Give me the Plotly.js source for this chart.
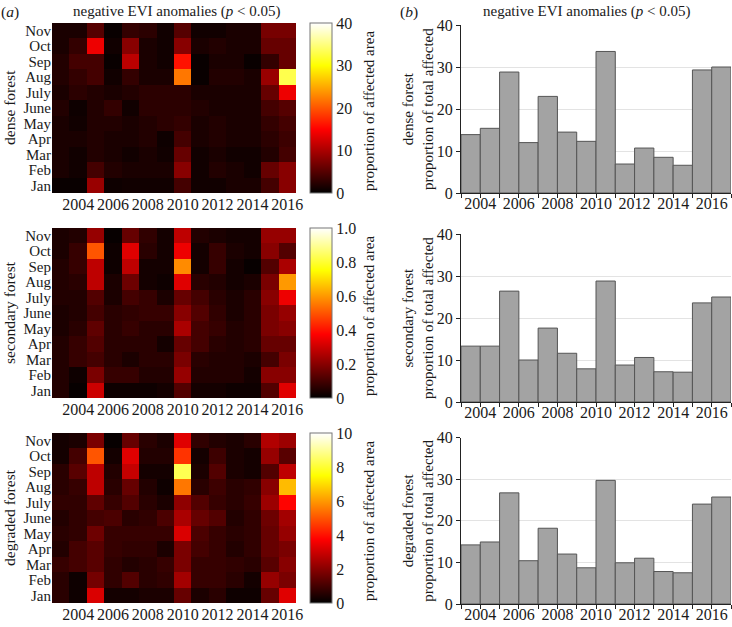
<!DOCTYPE html>
<html>
<head>
<meta charset="utf-8">
<script src="https://cdn.plot.ly/plotly-3.0.1.min.js"></script>
<style>html,body{margin:0;padding:0;background:#fff;}#chart{width:732px;height:627px;}</style>
</head>
<body>
<div id="chart"></div>
<script>
// ---------- data ----------
const years = [2003,2004,2005,2006,2007,2008,2009,2010,2011,2012,2013,2014,2015,2016];
const months = ['Jan','Feb','Mar','Apr','May','June','July','Aug','Sep','Oct','Nov'];
const yearTicks = [2004,2006,2008,2010,2012,2014,2016];

// heatmap rows: Jan ... Nov, columns 2003 ... 2016
const denseHeat = [
  [0.5,0.5,9,0.8,1,1,1,4,1,1,1.5,1.5,4,8],        // Jan
  [1.5,1,4,2,1.5,1.5,1.5,8,1,2,1.5,1,6,8],        // Feb
  [1.5,1,2,1.5,1,1.5,1,6,1,1.5,1,1,2,4],          // Mar
  [1.5,1.5,2,1.5,1.5,2,0.8,4,1.5,2,1.5,1.5,2.5,3.5], // Apr
  [1.5,1,2,2,1.5,2,2.5,3,1.5,2,1.5,1.5,3,4],      // May
  [2,0.8,2,3,1,2.5,2.5,2.5,2,1.5,1.5,1.5,4,5],    // June
  [1.5,2.5,2,1.5,2,2.5,2.5,2.5,1.5,1.5,1.5,1.5,6,14], // July
  [2,3,4,1,3,1.5,1.5,22,0.5,2,2,1.5,9,33],        // Aug
  [2,4,4,0.5,11,1.5,1,16,0.5,1.5,1.5,0.5,3,6],    // Sep
  [1.5,3,14,1,8,1.5,1,8,1.5,2,1.5,1.5,6,6],       // Oct
  [1.5,1.5,5,0.5,3,2.5,1,5,1,1,1.5,1.5,7,7]       // Nov
];
const secondaryHeat = [
  [0.05,0.01,0.30,0.02,0.02,0.02,0.03,0.12,0.03,0.03,0.02,0.02,0.12,0.33], // Jan
  [0.05,0.02,0.18,0.08,0.08,0.05,0.05,0.22,0.05,0.05,0.05,0.03,0.20,0.20], // Feb
  [0.05,0.08,0.10,0.06,0.04,0.06,0.06,0.18,0.06,0.05,0.05,0.04,0.10,0.18], // Mar
  [0.05,0.08,0.12,0.06,0.06,0.06,0.03,0.15,0.10,0.06,0.05,0.06,0.15,0.15], // Apr
  [0.04,0.06,0.14,0.06,0.08,0.06,0.06,0.25,0.10,0.08,0.05,0.06,0.18,0.20], // May
  [0.04,0.05,0.10,0.06,0.07,0.08,0.08,0.20,0.12,0.07,0.04,0.06,0.18,0.22], // June
  [0.05,0.05,0.12,0.04,0.10,0.08,0.04,0.15,0.10,0.06,0.04,0.06,0.20,0.35], // July
  [0.05,0.06,0.28,0.04,0.16,0.03,0.02,0.33,0.06,0.05,0.03,0.04,0.18,0.60], // Aug
  [0.05,0.08,0.28,0.02,0.28,0.03,0.03,0.58,0.03,0.08,0.03,0.01,0.12,0.25], // Sep
  [0.04,0.08,0.50,0.02,0.33,0.06,0.03,0.35,0.03,0.08,0.04,0.03,0.20,0.12], // Oct
  [0.04,0.05,0.22,0.01,0.15,0.07,0.03,0.28,0.05,0.04,0.03,0.03,0.22,0.22]  // Nov
];
const degradedHeat = [
  [0.6,0.2,3.2,0.3,0.3,0.4,0.4,1.5,0.4,0.6,0.2,0.2,1.5,3.3], // Jan
  [0.6,0.2,1.7,0.7,1.2,0.6,0.7,2.4,0.8,0.8,0.6,0.3,2.2,1.8], // Feb
  [0.8,1.0,1.3,0.7,0.5,0.6,0.8,1.8,0.8,0.8,0.7,0.6,1.3,2.0], // Mar
  [0.5,1.0,1.3,0.8,0.7,0.7,0.4,1.8,1.0,0.8,0.5,0.7,1.5,1.8], // Apr
  [0.6,0.7,1.6,0.8,0.8,0.8,0.8,3.2,1.1,0.8,0.6,0.7,1.5,2.2], // May
  [0.5,0.7,1.0,1.1,0.6,0.7,1.1,2.5,1.5,1.2,0.5,0.7,1.6,2.4], // June
  [0.7,0.7,1.4,0.8,1.2,0.6,0.4,2.1,1.2,0.8,0.6,0.8,2.3,3.8], // July
  [0.6,0.8,2.8,0.6,1.5,0.5,0.2,5.5,0.6,0.9,0.6,0.7,2.0,6.5], // Aug
  [0.6,1.3,2.8,0.5,2.9,0.3,0.3,8.3,0.4,1.2,0.4,0.3,1.2,2.8], // Sep
  [0.3,1.0,5.0,0.3,3.3,0.5,0.5,4.5,0.3,0.9,0.4,0.3,2.2,1.3], // Oct
  [0.3,0.4,1.8,0.1,1.5,0.6,0.4,3.3,0.7,0.5,0.4,0.6,2.6,2.3]  // Nov
];

// bar values: proportion of total affected, 2003 ... 2016
const denseBars     = [13.9,15.4,28.8,12.0,23.0,14.5,12.3,33.7,6.9,10.7,8.5,6.6,29.3,30.0];
const secondaryBars = [13.3,13.3,26.4,10.0,17.6,11.6,7.9,28.8,8.8,10.6,7.2,7.1,23.6,25.0];
const degradedBars  = [14.2,14.9,26.7,10.4,18.2,12.0,8.7,29.7,9.9,11.0,7.8,7.5,24.0,25.7];

const forestNames = ['dense forest','secondary forest','degraded forest'];
const heatMax = [40, 1, 10];
const heatTickVals = [[0,10,20,30,40],[0,0.2,0.4,0.6,0.8,1.0],[0,2,4,6,8,10]];
const heatTickText = [['0','10','20','30','40'],['0','0.2','0.4','0.6','0.8','1.0'],['0','2','4','6','8','10']];
const barTickVals = [0,10,20,30,40];

// ---------- layout helpers ----------
const W = 732, H = 627;
const px = v => v / W;
const py = v => (H - v) / H;
const FONT = '"Liberation Serif", "DejaVu Serif", "Times New Roman", serif';
const TXT = '#1a1a1a';

const hotScale = [[0,'#000000'],[0.375,'#ff0000'],[0.75,'#ffff00'],[1,'#ffffff']];

const heatTop = [23, 228, 433], heatBot = [193, 398, 603];
const barTop = [25, 234, 437.5], barBot = [193, 402, 604];
const heatL = 52, heatR = 296, barL = 461, barR = 731;

const heats = [denseHeat, secondaryHeat, degradedHeat];
const bars = [denseBars, secondaryBars, degradedBars];

const data = [];
const layout = {
  width: W, height: H,
  margin: {l:0, r:0, t:0, b:0},
  paper_bgcolor: '#fff', plot_bgcolor: '#fff',
  font: {family: FONT, size: 14, color: TXT},
  showlegend: false,
  annotations: []
};

for (let i = 0; i < 3; i++) {
  const hx = 'x' + (i+1), hy = 'y' + (i+1);
  const bx = 'x' + (i+4), by = 'y' + (i+4);
  const cy = (heatTop[i] + heatBot[i]) / 2;
  data.push({
    type: 'heatmap', x: years, y: months, z: heats[i],
    xaxis: hx, yaxis: hy,
    zmin: 0, zmax: heatMax[i], colorscale: hotScale,
    colorbar: {
      x: px(310), xanchor: 'left', xpad: 0, ypad: 0,
      y: py(cy), yanchor: 'middle',
      len: heatBot[i] - heatTop[i], lenmode: 'pixels',
      thickness: 22, thicknessmode: 'pixels',
      outlinewidth: 1, outlinecolor: '#777',
      tickvals: heatTickVals[i], ticktext: heatTickText[i],
      ticks: '', tickfont: {family: FONT, size: 16, color: TXT}
    }
  });
  data.push({
    type: 'bar', x: years, y: bars[i],
    xaxis: bx, yaxis: by,
    offset: 0, width: 1,
    marker: {color: '#a3a3a3', line: {color: '#555', width: 1}}
  });
  const ax = i === 0 ? '' : String(i+1);
  layout['xaxis' + ax] = {
    domain: [px(heatL), px(heatR)], anchor: hy,
    range: [2002.5, 2016.5], tickmode: 'array', tickvals: yearTicks, ticks: '',
    showgrid: false, zeroline: false, showline: false,
    tickfont: {family: FONT, size: 16, color: TXT}, ticklabelstandoff: 0
  };
  layout['yaxis' + ax] = {
    domain: [py(heatBot[i]), py(heatTop[i])], anchor: hx,
    type: 'category', tickmode: 'array', tickvals: months, ticktext: months,
    ticks: '', showgrid: false, zeroline: false,
    tickfont: {family: FONT, size: 15, color: TXT}
  };
  layout['xaxis' + (i+4)] = {
    domain: [px(barL), px(barR)], anchor: by,
    range: [2003, 2017], tickmode: 'array', tickvals: yearTicks, ticks: 'outside', ticklen: 4,
    tickcolor: '#222', showline: true, linecolor: '#222', linewidth: 1,
    showgrid: false, zeroline: false, ticklabelstandoff: -8,
    minor: {dtick: 1, tick0: 2003, ticks: 'outside', ticklen: 4, tickcolor: '#222', showgrid: false},
    tickfont: {family: FONT, size: 16, color: TXT}
  };
  layout['yaxis' + (i+4)] = {
    domain: [py(barBot[i]), py(barTop[i])], anchor: bx,
    range: [0, 40], tickmode: 'array', tickvals: barTickVals, ticks: 'outside', ticklen: 4,
    tickcolor: '#222', showline: true, linecolor: '#222', linewidth: 1,
    showgrid: true, gridcolor: '#e3e3e3', zeroline: false,
    tickfont: {family: FONT, size: 16, color: TXT}
  };
  // heatmap y titles
  layout.annotations.push({
    xref: 'paper', yref: 'paper', x: px(9), y: py(cy), text: forestNames[i],
    textangle: -90, showarrow: false, xanchor: 'center', yanchor: 'middle',
    font: {family: FONT, size: 15.5, color: TXT}
  });
  // colorbar titles
  layout.annotations.push({
    xref: 'paper', yref: 'paper', x: px(369), y: py(cy + 3), text: 'proportion of affected area',
    textangle: -90, showarrow: false, xanchor: 'center', yanchor: 'middle',
    font: {family: FONT, size: 15, color: TXT}
  });
  // bar y titles
  layout.annotations.push({
    xref: 'paper', yref: 'paper', x: px(418), y: py((barTop[i]+barBot[i])/2),
    text: forestNames[i] + '<br>proportion of total affected',
    textangle: -90, showarrow: false, xanchor: 'center', yanchor: 'middle',
    font: {family: FONT, size: 15, color: TXT}
  });
}

// panel titles
const titleText = 'negative EVI anomalies (<i>p</i> &lt; 0.05)';
layout.annotations.push(
  {xref:'paper', yref:'paper', x: px(10), y: py(12), text: '(<i>a</i>)', showarrow:false, xanchor:'center', yanchor:'middle', font:{family:FONT, size:15.5, color:TXT}},
  {xref:'paper', yref:'paper', x: px(177), y: py(12), text: titleText, showarrow:false, xanchor:'center', yanchor:'middle', font:{family:FONT, size:15, color:TXT}},
  {xref:'paper', yref:'paper', x: px(409), y: py(12), text: '(<i>b</i>)', showarrow:false, xanchor:'center', yanchor:'middle', font:{family:FONT, size:15.5, color:TXT}},
  {xref:'paper', yref:'paper', x: px(587), y: py(12), text: titleText, showarrow:false, xanchor:'center', yanchor:'middle', font:{family:FONT, size:15, color:TXT}}
);

Plotly.newPlot('chart', data, layout, {staticPlot: true, displayModeBar: false});
</script>
</body>
</html>
